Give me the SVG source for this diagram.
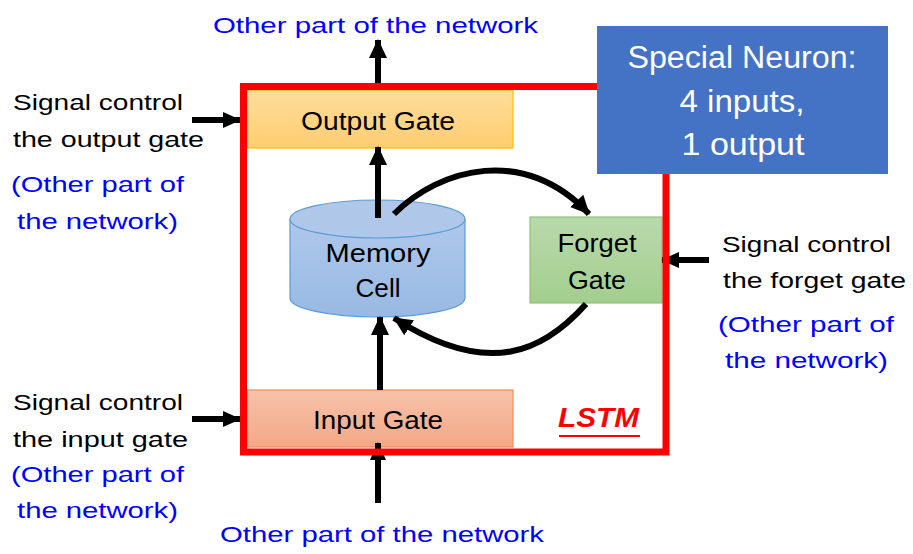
<svg xmlns="http://www.w3.org/2000/svg" width="913" height="554" viewBox="0 0 913 554">
<defs>
<style>
text{font-family:"Liberation Sans",Arial,sans-serif;}
.blk{fill:#000;font-size:22px;}
.blu{fill:#0000FF;font-size:22px;}
.node{font-size:26px;fill:#000;text-anchor:middle;}
.big{font-size:31px;fill:#fff;text-anchor:middle;}
.ln{stroke:#000;stroke-width:6;fill:none;}
</style>
<marker id="ah" markerUnits="userSpaceOnUse" markerWidth="20" markerHeight="20" viewBox="0 0 20 20" refX="18" refY="10" orient="auto">
<path d="M0,1 L19,10 L0,19 z" fill="#000"/>
</marker>
<marker id="ahs" markerUnits="userSpaceOnUse" markerWidth="18" markerHeight="18" viewBox="0 0 18 18" refX="17" refY="9" orient="auto">
<path d="M0,1 L18,9 L0,17 z" fill="#000"/>
</marker>
<linearGradient id="gOut" x1="0" y1="0" x2="0" y2="1"><stop offset="0" stop-color="#FFDD9E"/><stop offset="1" stop-color="#FFCD6E"/></linearGradient>
<linearGradient id="gIn" x1="0" y1="0" x2="0" y2="1"><stop offset="0" stop-color="#F6C2AA"/><stop offset="1" stop-color="#F4A886"/></linearGradient>
<linearGradient id="gFg" x1="0" y1="0" x2="0" y2="1"><stop offset="0" stop-color="#B9D9AC"/><stop offset="1" stop-color="#A3CE8E"/></linearGradient>
<linearGradient id="gMem" x1="0" y1="0" x2="0" y2="1"><stop offset="0" stop-color="#AFC8EA"/><stop offset="1" stop-color="#98B9E4"/></linearGradient>
</defs>

<g id="output-gate">
<rect x="247" y="90" width="266" height="58" fill="url(#gOut)" stroke="#FFC000" stroke-width="1.2"/>
<text class="node" x="378" y="130" textLength="154" lengthAdjust="spacingAndGlyphs">Output Gate</text>
</g>

<g id="memory-cell">
<path d="M290,219 L290,298 A87.5,19 0 0 0 465,298 L465,219" fill="url(#gMem)" stroke="#5B9BD5" stroke-width="1.2"/>
<ellipse cx="377.5" cy="219" rx="87.5" ry="19" fill="#AFC8EA" stroke="#5B9BD5" stroke-width="1.2"/>
<text class="node" x="378" y="262" textLength="105" lengthAdjust="spacingAndGlyphs">Memory</text>
<text class="node" x="378" y="297" textLength="45" lengthAdjust="spacingAndGlyphs">Cell</text>
</g>

<g id="forget-gate">
<rect x="530" y="217" width="132" height="86" fill="url(#gFg)" stroke="#8FC27A" stroke-width="1.2"/>
<text class="node" x="597" y="252" textLength="79" lengthAdjust="spacingAndGlyphs">Forget</text>
<text class="node" x="597" y="289" textLength="58" lengthAdjust="spacingAndGlyphs">Gate</text>
</g>

<g id="input-gate">
<rect x="247" y="390" width="266" height="57" fill="url(#gIn)" stroke="#F08A5D" stroke-width="1.2"/>
<text class="node" x="378" y="429" textLength="130" lengthAdjust="spacingAndGlyphs">Input Gate</text>
</g>

<g id="connectors">
<line class="ln" x1="378" y1="87" x2="378" y2="40" marker-end="url(#ah)"/>
<line class="ln" x1="378" y1="218" x2="378" y2="147" marker-end="url(#ah)"/>
<line class="ln" x1="380" y1="390" x2="380" y2="317" marker-end="url(#ah)"/>
<path class="ln" d="M394,214 C440,168 525,145 589,214" marker-end="url(#ah)"/>
<path class="ln" d="M586,304 C545,350 490,380 394,318" marker-end="url(#ah)"/>
<line class="ln" x1="192" y1="120" x2="240" y2="120" marker-end="url(#ahs)"/>
<line class="ln" x1="192" y1="419" x2="240" y2="419" marker-end="url(#ahs)"/>
<line class="ln" x1="709" y1="260" x2="662" y2="260" marker-end="url(#ahs)"/>
<line class="ln" x1="378" y1="503" x2="378" y2="443" marker-end="url(#ahs)"/>
</g>

<g id="lstm-border">
<rect x="243.5" y="86.5" width="422.5" height="365.5" fill="none" stroke="#FF0000" stroke-width="7"/>
<text x="558" y="427" font-size="28" font-weight="bold" font-style="italic" fill="#FF0000" textLength="81" lengthAdjust="spacingAndGlyphs">LSTM</text>
<rect x="559" y="435" width="81" height="2" fill="#FF0000"/>
</g>

<g id="special-neuron">
<rect x="597" y="26" width="291" height="148" fill="#4472C4"/>
<text class="big" x="742" y="68" textLength="229" lengthAdjust="spacingAndGlyphs">Special Neuron:</text>
<text class="big" x="742" y="112" textLength="125" lengthAdjust="spacingAndGlyphs">4 inputs,</text>
<text class="big" x="743" y="155" textLength="123" lengthAdjust="spacingAndGlyphs">1 output</text>
</g>

<g id="labels">
<text class="blu" x="213" y="33" font-size="25" textLength="325" lengthAdjust="spacingAndGlyphs">Other part of the network</text>
<text class="blu" x="220" y="542" font-size="25" textLength="324" lengthAdjust="spacingAndGlyphs">Other part of the network</text>

<text class="blk" x="13" y="110" textLength="170" lengthAdjust="spacingAndGlyphs">Signal control</text>
<text class="blk" x="13" y="147" textLength="191" lengthAdjust="spacingAndGlyphs">the output gate</text>
<text class="blu" x="11" y="192" textLength="173" lengthAdjust="spacingAndGlyphs">(Other part of</text>
<text class="blu" x="17" y="229" textLength="161" lengthAdjust="spacingAndGlyphs">the network)</text>

<text class="blk" x="13" y="410" textLength="170" lengthAdjust="spacingAndGlyphs">Signal control</text>
<text class="blk" x="13" y="447" textLength="175" lengthAdjust="spacingAndGlyphs">the input gate</text>
<text class="blu" x="11" y="482" textLength="173" lengthAdjust="spacingAndGlyphs">(Other part of</text>
<text class="blu" x="17" y="518" textLength="161" lengthAdjust="spacingAndGlyphs">the network)</text>

<text class="blk" x="722" y="252" textLength="169" lengthAdjust="spacingAndGlyphs">Signal control</text>
<text class="blk" x="723" y="288" textLength="183" lengthAdjust="spacingAndGlyphs">the forget gate</text>
<text class="blu" x="718" y="332" textLength="176" lengthAdjust="spacingAndGlyphs">(Other part of</text>
<text class="blu" x="725" y="368" textLength="163" lengthAdjust="spacingAndGlyphs">the network)</text>
</g>
</svg>
